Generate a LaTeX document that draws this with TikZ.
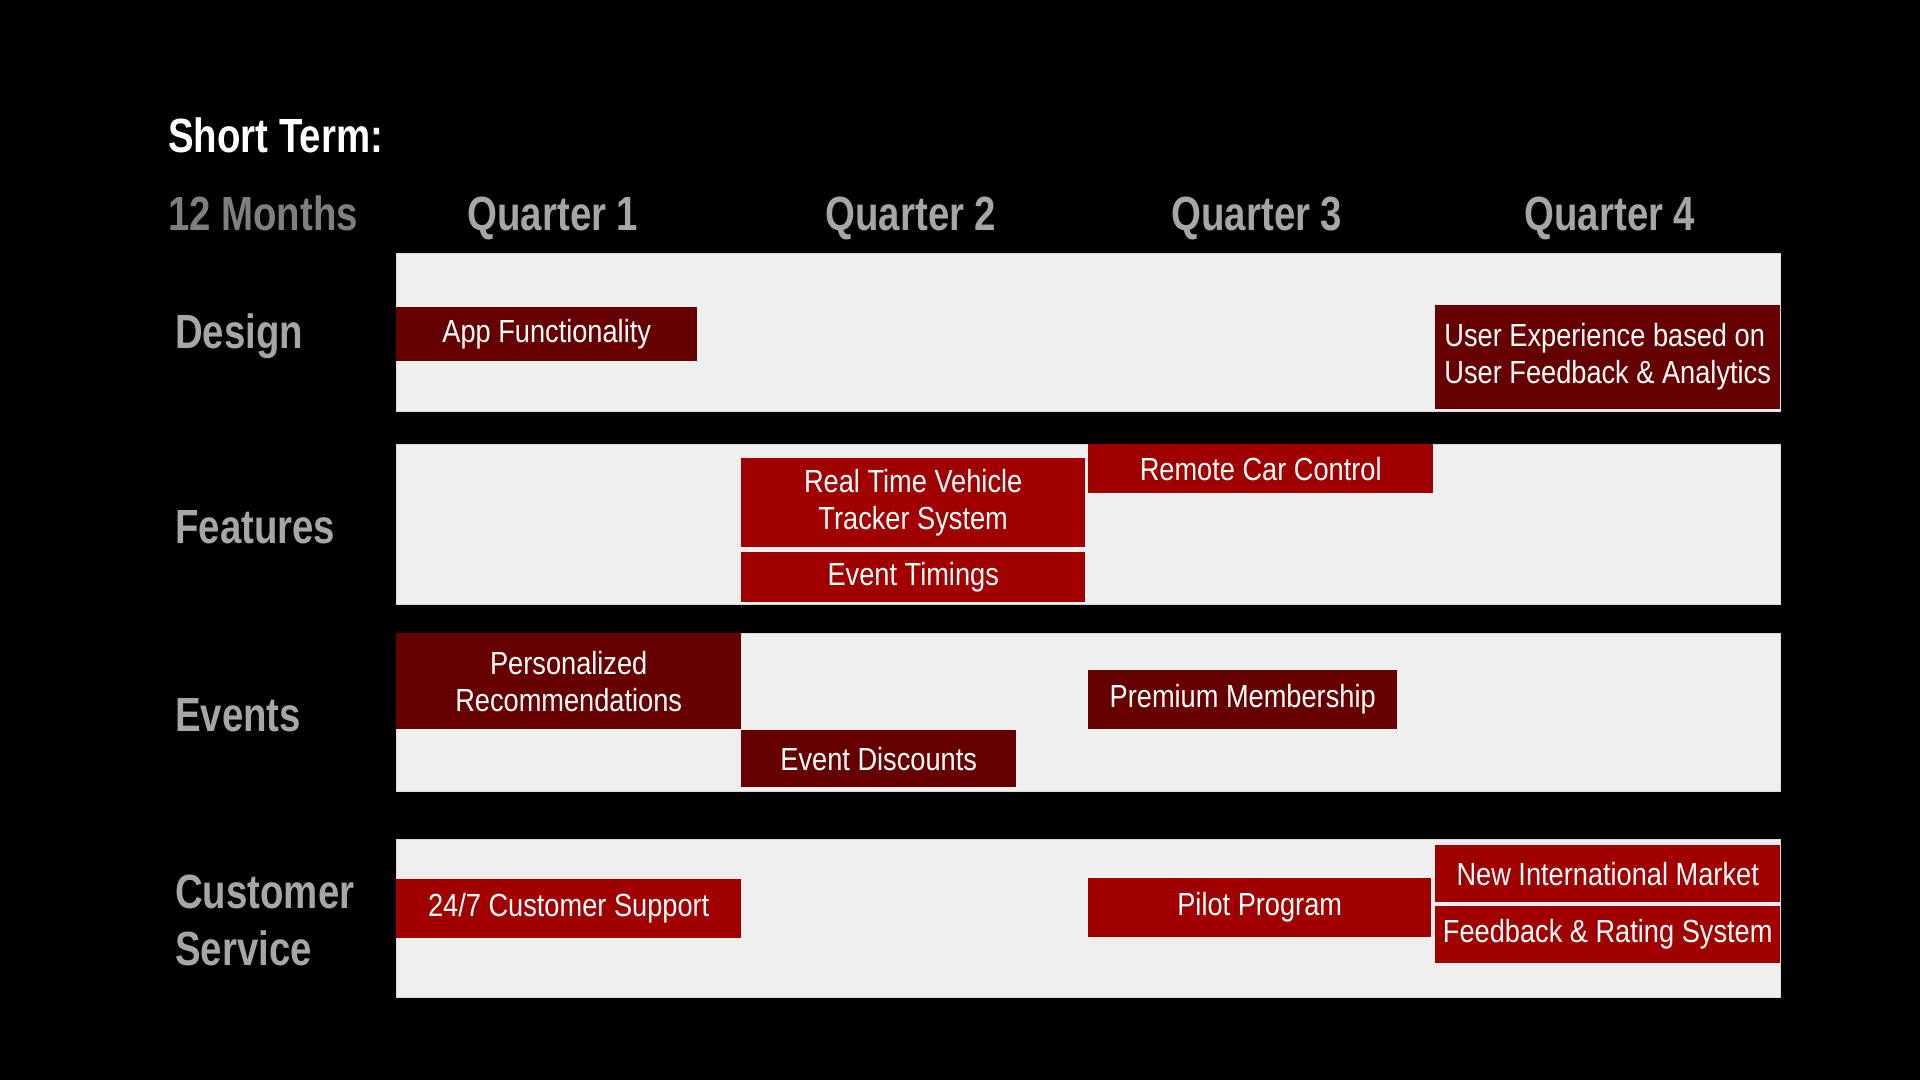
\documentclass[tikz,border=0pt]{standalone}
\usepackage{fontspec}
\setmainfont[FakeStretch=0.85]{Liberation Sans}
\newfontfamily\headfont[FakeStretch=0.8]{Liberation Sans}
\usetikzlibrary{positioning}
\definecolor{bandgray}{HTML}{EFEFEF}
\definecolor{darkred}{HTML}{660000}
\definecolor{brightred}{HTML}{A00000}
\definecolor{labelgray}{HTML}{A6A6A6}
\definecolor{monthgray}{HTML}{7F7F7F}
\tikzset{
	x=1pt, y=-1pt, % one unit is one pixel, y runs down
	band/.style={anchor=north west, inner sep=0pt, fill=bandgray, draw=gray!30, line width=1pt}, % the grey row behind the tasks
	rowlabel/.style={anchor=west, inner sep=0pt, text=labelgray, font=\headfont\bfseries\fontsize{48}{58}\selectfont, text height=35pt, text depth=0pt},
	quarter/.style={rowlabel, anchor=center},
	task/.style={anchor=north west, inner sep=0pt, align=center, text=white, font=\fontsize{32}{37}\selectfont},
	darktask/.style={task, fill=darkred},
	redtask/.style={task, fill=brightred},
}
\begin{document}
\begin{tikzpicture}
	\fill[black] (0,0) rectangle (1920,1080);

	\node[rowlabel, text=white] (title) at (168,135) {Short Term:};
	\node[rowlabel, text=monthgray] (months) at (168,213) {12 Months};
	\foreach \q/\cx in {1/553, 2/911, 3/1257, 4/1610}
		\node[quarter] (q\q) at (\cx,213) {Quarter \q};

	% rows
	\node[band, minimum width=1384pt, minimum height=158pt] (design) at (396,253) {};
	\node[band, minimum width=1384pt, minimum height=160pt] (features) at (396,444) {};
	\node[band, minimum width=1384pt, minimum height=158pt] (events) at (396,633) {};
	\node[band, minimum width=1384pt, minimum height=158pt] (service) at (396,839) {};

	\node[rowlabel] (designlbl) at (175,331) {Design};
	\node[rowlabel] (featureslbl) at (175,526) {Features};
	\node[rowlabel] (eventslbl) at (175,714) {Events};
	\node[rowlabel] (customerlbl) at (175,891) {Customer};
	\node[rowlabel] (servicelbl) at (175,948) {Service};

	% tasks
	\node[darktask, minimum width=301pt, minimum height=54pt] (appfunc) at (396,307) {App Functionality};
	\node[darktask, minimum width=345pt, minimum height=104pt, align=left] (userexp) at (1435,305) {User Experience based on\\User Feedback \& Analytics};

	\node[redtask, minimum width=344pt, minimum height=89pt] (tracker) at (741,458) {Real Time Vehicle\\Tracker System};
	\node[redtask, minimum width=344pt, minimum height=50pt] (timings) at (741,552) {Event Timings};
	\node[redtask, minimum width=345pt, minimum height=49pt] (remote) at (1088,444) {Remote Car Control};

	\node[darktask, minimum width=345pt, minimum height=96pt] (personal) at (396,633) {Personalized\\Recommendations};
	\node[darktask, minimum width=275pt, minimum height=57pt] (discounts) at (741,730) {Event Discounts};
	\node[darktask, minimum width=309pt, minimum height=59pt] (premium) at (1088,670) {Premium Membership};

	\node[redtask, minimum width=345pt, minimum height=59pt] (support) at (396,879) {24/7 Customer Support};
	\node[redtask, minimum width=343pt, minimum height=59pt] (pilot) at (1088,878) {Pilot Program};
	\node[redtask, minimum width=345pt, minimum height=57pt] (market) at (1435,845) {New International Market};
	\node[redtask, minimum width=345pt, minimum height=57pt] (rating) at (1435,906) {Feedback \& Rating System};
\end{tikzpicture}
\end{document}
